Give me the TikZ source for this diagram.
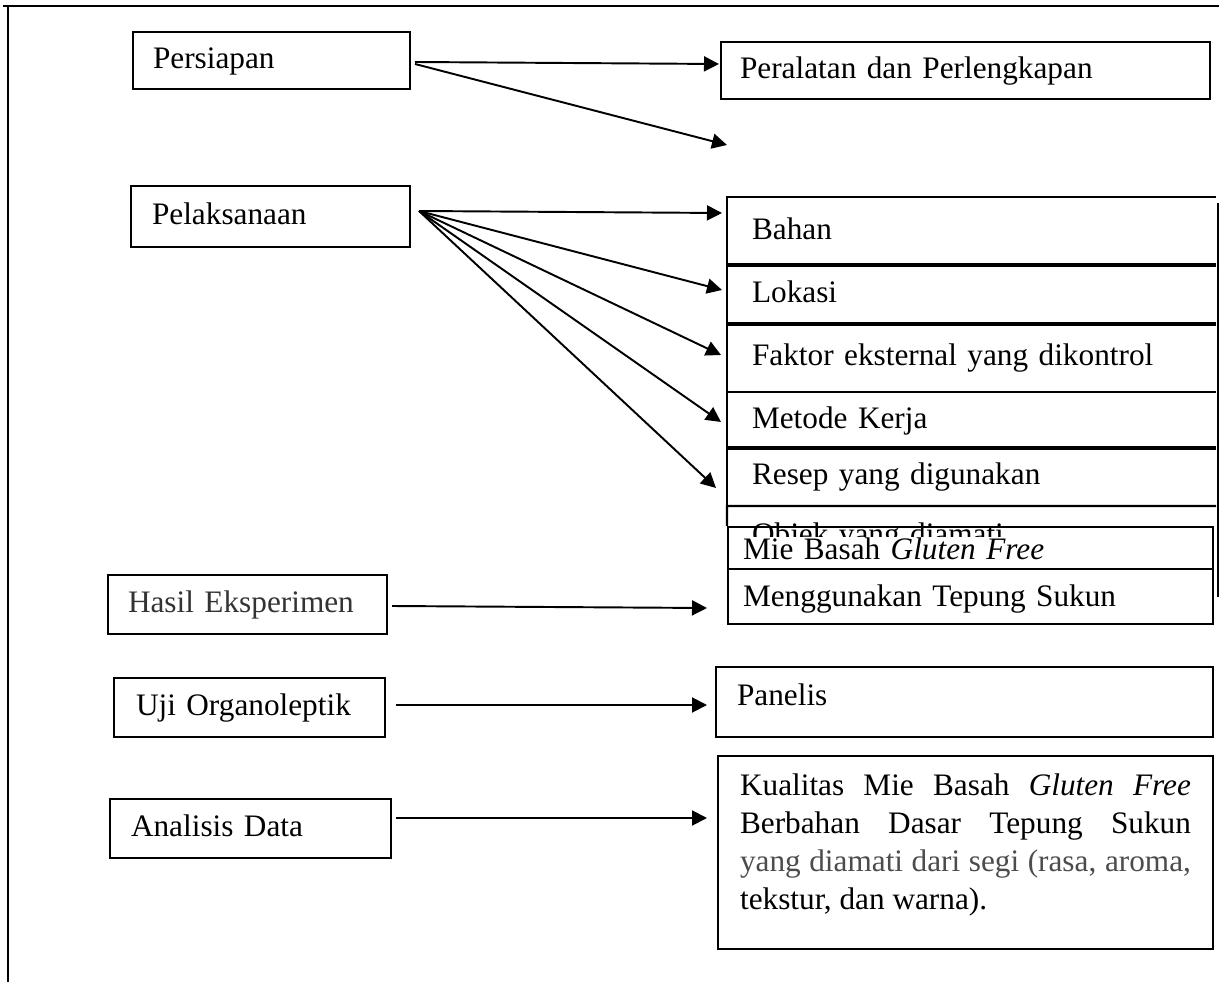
\documentclass[tikz,border=0pt]{standalone}
\usepackage{fontspec}
\setmainfont{Liberation Serif}
\usetikzlibrary{arrows.meta,calc}

\begin{document}
\begin{tikzpicture}[x=0.02cm, y=-0.02cm,
    kotak/.style={draw, line width=1.2pt, inner ysep=0pt, align=left, text height=0.44cm, text depth=0.12cm, font=\fontsize{17.8}{21.7}\selectfont},
    baris/.style={kotak, draw=none, text width=8.78cm, inner xsep=0.48cm},
    garis/.style={line width=1.2pt},
    panah/.style={line width=1.1pt, -{Triangle[length=0.3cm, width=0.3cm]}}]
    \useasboundingbox (0,0) rectangle (1219,982);
    \draw[garis] (3,6) -- (1219,6);
    \draw[garis] (8,6) -- (8,982);

    \node[kotak, text width=4.74cm, inner xsep=0.4cm, minimum height=1.14cm] (persiapan) at (271.5,60.5) {Persiapan};
    \node[kotak, text width=4.74cm, inner xsep=0.42cm, minimum height=1.22cm] (pelaksanaan) at (270.5,216.5) {Pelaksanaan};
    \node[kotak, text width=4.78cm, inner xsep=0.4cm, minimum height=1.18cm, text=black!80] (hasil) at (247.5,604.5) {Hasil Eksperimen};
    \node[kotak, text width=4.54cm, inner xsep=0.44cm, minimum height=1.18cm] (uji) at (249.5,707.5) {Uji Organoleptik};
    \node[kotak, text width=4.78cm, inner xsep=0.42cm, minimum height=1.18cm] (analisis) at (250.5,828.5) {Analisis Data};

    \node[kotak, text width=9.02cm, inner xsep=0.38cm, minimum height=1.14cm] (peralatan) at (965.5,70.5) {Peralatan dan Perlengkapan};
    \coordinate (lepas) at (727,145);

    \node[baris, minimum height=1.34cm] (bahan) at (971.5,231.5) {Bahan};
    \node[baris, minimum height=1.18cm] (lokasi) at (971.5,294.5) {Lokasi};
    \node[baris, minimum height=1.34cm] (faktor) at (971.5,357.5) {Faktor eksternal yang dikontrol};
    \node[baris, minimum height=1.10cm] (metode) at (971.5,420.5) {Metode Kerja};
    \node[baris, minimum height=1.14cm] (resep) at (971.5,476.5) {Resep yang digunakan};
    \node[baris, minimum height=1.16cm] (objek) at (971.5,536) {Objek yang diamati};
    \fill[white] (729,537) rectangle (1212,568);
    \node[kotak, text width=9.1cm, inner xsep=0.3cm, minimum height=0.84cm, text height=0.56cm, text depth=0.08cm] (mie) at (970.5,548) {Mie Basah \textit{Gluten Free}};
    \node[kotak, text width=9.1cm, inner xsep=0.3cm, minimum height=1.1cm, text height=0.5cm] (sukun) at (970.5,596.5) {Menggunakan Tepung Sukun};

    \draw[garis] (bahan.north east) -- (bahan.north west) -- (bahan.south west) -- (bahan.south east);
    \draw[garis] (lokasi.north east) -- (lokasi.north west) -- (lokasi.south west) -- (lokasi.south east);
    \draw[garis] (faktor.north east) -- (faktor.north west) -- (faktor.south west) -- (faktor.south east);
    \draw[garis] (metode.north east) -- (metode.north west) -- (metode.south west) -- (metode.south east);
    \draw[garis] (resep.north east) -- (resep.north west) -- (resep.south west) -- (resep.south east);
    \draw[garis] (objek.north east) -- (objek.north west) -- (mie.north west);
    \draw[garis] (1218,203) -- (1218,597);

    \node[kotak, text width=9.1cm, inner xsep=0.42cm, minimum height=1.4cm, text depth=0.32cm] (panelis) at (964.5,702) {Panelis};
    \node[kotak, text width=9.02cm, inner xsep=0.44cm, minimum height=3.86cm, align=justify, text depth=2.74cm] (kualitas) at (965.5,852.5) {Kualitas Mie Basah \textit{Gluten Free}\linebreak Berbahan Dasar Tepung Sukun\linebreak {\color{black!70}yang diamati dari segi (rasa, aroma,}\linebreak tekstur, dan warna).};

    \draw[panah] ($(persiapan.east)+(4,1.5)$) -- ($(peralatan.west)+(-1,-6.5)$);
    \draw[panah] ($(persiapan.east)+(4,3.5)$) -- (lepas);
    \draw[panah] ($(pelaksanaan.east)+(8,-5.5)$) -- ($(bahan.west)+(-5,-18.5)$);
    \draw[panah] ($(pelaksanaan.east)+(8,-5.5)$) -- ($(lokasi.west)+(-5,-4.5)$);
    \draw[panah] ($(pelaksanaan.east)+(8,-5.5)$) -- ($(faktor.west)+(-6,-2.5)$);
    \draw[panah] ($(pelaksanaan.east)+(8,-5.5)$) -- ($(metode.west)+(-6,1.5)$);
    \draw[panah] ($(pelaksanaan.east)+(8,-5.5)$) -- ($(resep.west)+(-11,11.5)$);
    \draw[panah] ($(hasil.east)+(4,1.5)$) -- ($(sukun.west)+(-20,11.5)$);
    \draw[panah] ($(uji.east)+(10,-2.5)$) -- ($(panelis.west)+(-8,3)$);
    \draw[panah] ($(analisis.east)+(4,-10.5)$) -- ($(kualitas.west)+(-10,-34.5)$);
\end{tikzpicture}
\end{document}
